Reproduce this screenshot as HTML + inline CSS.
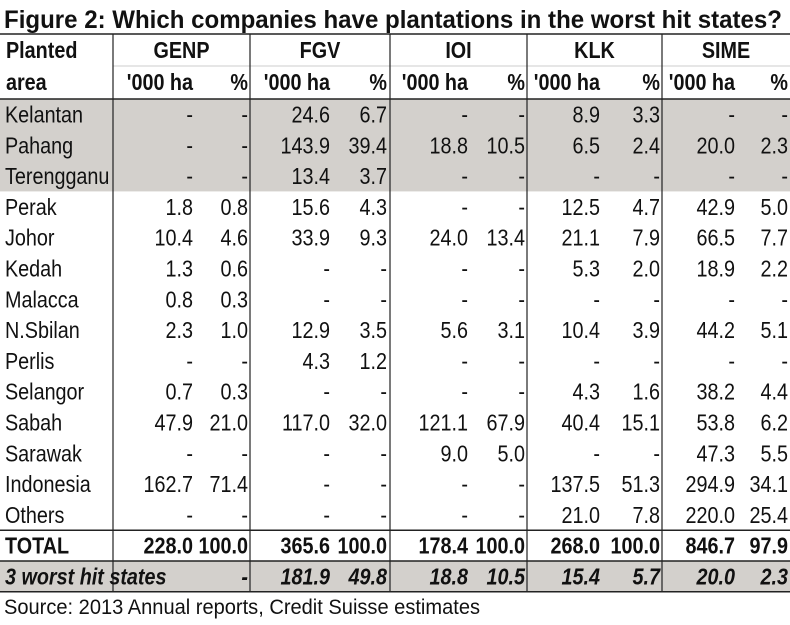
<!DOCTYPE html>
<html><head><meta charset="utf-8"><style>
body{margin:0;background:#fff;}
svg text{font-family:"Liberation Sans Narrow","Liberation Sans",Arial,sans-serif;fill:#111;}
</style></head><body>
<svg id="chart" width="790" height="620" xmlns="http://www.w3.org/2000/svg">
<text x="4" y="28" font-size="25" font-weight="bold" textLength="778" lengthAdjust="spacingAndGlyphs">Figure 2: Which companies have plantations in the worst hit states?</text>
<g id="g"></g>
<text x="4" y="614" font-size="21" textLength="476" lengthAdjust="spacingAndGlyphs">Source: 2013 Annual reports, Credit Suisse estimates</text>
</svg>
<script>
const companies=["GENP","FGV","IOI","KLK","SIME"];
const states=["Kelantan","Pahang","Terengganu","Perak","Johor","Kedah","Malacca","N.Sbilan","Perlis","Selangor","Sabah","Sarawak","Indonesia","Others","TOTAL","3 worst hit states"];
const genp=[["-","-"],["-","-"],["-","-"],["1.8","0.8"],["10.4","4.6"],["1.3","0.6"],["0.8","0.3"],["2.3","1.0"],["-","-"],["0.7","0.3"],["47.9","21.0"],["-","-"],["162.7","71.4"],["-","-"],["228.0","100.0"],["","-"]];
const fgv=[["24.6","6.7"],["143.9","39.4"],["13.4","3.7"],["15.6","4.3"],["33.9","9.3"],["-","-"],["-","-"],["12.9","3.5"],["4.3","1.2"],["-","-"],["117.0","32.0"],["-","-"],["-","-"],["-","-"],["365.6","100.0"],["181.9","49.8"]];
const ioi=[["-","-"],["18.8","10.5"],["-","-"],["-","-"],["24.0","13.4"],["-","-"],["-","-"],["5.6","3.1"],["-","-"],["-","-"],["121.1","67.9"],["9.0","5.0"],["-","-"],["-","-"],["178.4","100.0"],["18.8","10.5"]];
const klk=[["8.9","3.3"],["6.5","2.4"],["-","-"],["12.5","4.7"],["21.1","7.9"],["5.3","2.0"],["-","-"],["10.4","3.9"],["-","-"],["4.3","1.6"],["40.4","15.1"],["-","-"],["137.5","51.3"],["21.0","7.8"],["268.0","100.0"],["15.4","5.7"]];
const sime=[["-","-"],["20.0","2.3"],["-","-"],["42.9","5.0"],["66.5","7.7"],["18.9","2.2"],["-","-"],["44.2","5.1"],["-","-"],["38.2","4.4"],["53.8","6.2"],["47.3","5.5"],["294.9","34.1"],["220.0","25.4"],["846.7","97.9"],["20.0","2.3"]];
const series=[genp,fgv,ioi,klk,sime];
const NS="http://www.w3.org/2000/svg";
const g=document.getElementById("g");
const colL=[113,250,390,527,662,790];
const numEnd=[193,330,468,600,735];
const pctEnd=[248,387,525,660,788];
const top0=99,rh=30.8,SX=0.86;
function rowY(i){return top0+i*rh;}
function mk(tag,attrs){const e=document.createElementNS(NS,tag);for(const k in attrs)e.setAttribute(k,attrs[k]);g.appendChild(e);return e;}
function txt(x,y,s,anchor,size,bold,italic){const t=mk("text",{x:0,y:0,transform:"translate("+x+","+y+") scale("+SX+",1)","font-size":size,"text-anchor":anchor});if(bold)t.setAttribute("font-weight","bold");if(italic)t.setAttribute("font-style","italic");t.textContent=s;return t;}
let r=mk("rect",{x:0,y:rowY(0),width:790,height:rh*3,fill:"#d3d0cc"});


r=mk("rect",{x:0,y:rowY(15),width:790,height:rh,fill:"#d3d0cc"});


mk("line",{x1:0,x2:790,y1:34,y2:34,stroke:"#222","stroke-width":1.5});
mk("line",{x1:113,x2:790,y1:66,y2:66,stroke:"#ccc","stroke-width":1});
mk("line",{x1:0,x2:790,y1:top0,y2:top0,stroke:"#222","stroke-width":1.5});
mk("line",{x1:0,x2:790,y1:rowY(14),y2:rowY(14),stroke:"#222","stroke-width":1.5});
mk("line",{x1:0,x2:790,y1:rowY(15),y2:rowY(15),stroke:"#222","stroke-width":1.5});
mk("line",{x1:0,x2:790,y1:rowY(16),y2:rowY(16),stroke:"#222","stroke-width":1.5});
colL.slice(0,5).forEach(x=>mk("line",{x1:x,x2:x,y1:34,y2:rowY(16),stroke:"#222","stroke-width":1.2}));
let t=txt(6,58,"Planted","start",23,true);


t=txt(6,90,"area","start",23,true);


companies.forEach((c,j)=>{
  let h=txt((colL[j]+colL[j+1])/2,58,c,"middle",23,true);
  
  
  h=txt(numEnd[j],90,"'000 ha","end",23,true);
  
  
  h=txt(pctEnd[j],90,"%","end",23,true);
  
  
});
states.forEach((s,i)=>{
  const y=rowY(i)+23.5;
  const bold=i>=14,ital=i==15;
  let l=txt(5,y,s,"start",23,bold,ital);
  
  
  series.forEach((arr,j)=>{
    let a=txt(numEnd[j],y,arr[i][0],"end",23,bold,ital);
    
    
    let b=txt(pctEnd[j],y,arr[i][1],"end",23,bold,ital);
    
    
  });
});
</script>
</body></html>
